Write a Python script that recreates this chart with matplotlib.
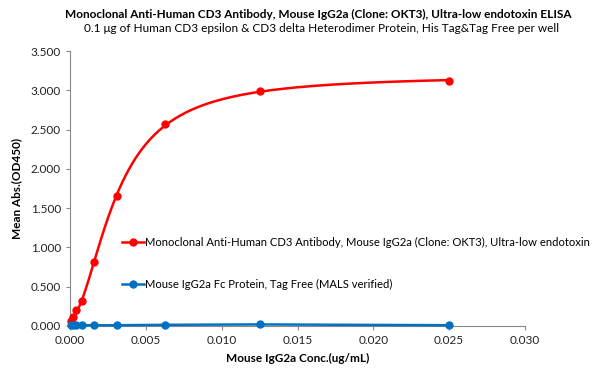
import numpy as np
import matplotlib.pyplot as plt

plt.rcParams['font.family'] = ['Lato', 'DejaVu Sans']

# data
conc = [0.025, 0.0125, 0.00625, 0.003125, 0.0015625, 0.00078125, 0.000390625, 0.0001953, 0.0000977]
od_okt3 = [3.12, 2.99, 2.57, 1.65, 0.82, 0.32, 0.20, 0.11, 0.07]
od_fc = [0.01, 0.02, 0.015, 0.01, 0.01, 0.01, 0.01, 0.01, 0.01]

label_okt3 = 'Monoclonal Anti-Human CD3 Antibody, Mouse IgG2a (Clone: OKT3), Ultra-low endotoxin'
label_fc = 'Mouse IgG2a Fc Protein, Tag Free (MALS verified)'
title = 'Monoclonal Anti-Human CD3 Antibody, Mouse IgG2a (Clone: OKT3), Ultra-low endotoxin ELISA'
subtitle = '0.1 \u03bcg of Human CD3 epsilon & CD3 delta Heterodimer Protein, His Tag&Tag Free per well'


def fit_4pl(x, y):
    # crude 4PL fit: grid over ec50/hill, linear least squares for bottom/top
    x = np.asarray(x)
    y = np.asarray(y)
    best = None
    for ec in np.geomspace(1e-4, 0.05, 300):
        for h in np.linspace(0.5, 3.0, 120):
            f = 1.0 / (1.0 + (ec / x) ** h)
            A = np.column_stack([1 - f, f])
            coef, *_ = np.linalg.lstsq(A, y, rcond=None)
            err = np.sum((A @ coef - y) ** 2)
            if best is None or err < best[0]:
                best = (err, ec, h, coef)
    _, ec, h, (bot, top) = best
    return lambda t: bot + (top - bot) / (1.0 + (ec / t) ** h)


def main():
    fig = plt.figure(figsize=(6.11, 3.75), dpi=100)
    ax = fig.add_axes([70 / 611, 1 - 326 / 375, 455 / 611, 275 / 375])

    f1 = fit_4pl(conc, od_okt3)
    xs = np.geomspace(min(conc), max(conc), 400)
    ax.plot(xs, f1(xs), color='#FF0000', lw=1.8, zorder=3)
    ax.plot(conc, od_okt3, 'o', color='#FF0000', ms=5, zorder=4)

    ax.plot(conc, od_fc, '-', color='#0070C0', lw=1.8, zorder=3)
    ax.plot(conc, od_fc, 'o', color='#0070C0', ms=5, zorder=4)

    # legend handles (line + marker)
    h1, = ax.plot([], [], '-o', color='#FF0000', lw=1.8, ms=5)
    h2, = ax.plot([], [], '-o', color='#0070C0', lw=1.8, ms=5)
    fig.legend([h1, h2], [label_okt3, label_fc], loc='upper left',
               bbox_to_anchor=(112 / 611, 1 - 227 / 375), frameon=False,
               handlelength=1.9, handletextpad=0.1, labelspacing=2.7,
               fontsize=8.1)

    ax.set_xlim(0, 0.030)
    ax.set_ylim(0, 3.5)
    ax.set_xticks(np.arange(0, 0.0301, 0.005))
    ax.set_yticks(np.arange(0, 3.51, 0.5))
    ax.xaxis.set_major_formatter(plt.FormatStrFormatter('%.3f'))
    ax.yaxis.set_major_formatter(plt.FormatStrFormatter('%.3f'))
    ax.tick_params(labelsize=8.5, colors='#222222', length=3, width=0.8)
    ax.tick_params(axis='both', color='#888888')
    for s in ['top', 'right']:
        ax.spines[s].set_visible(False)
    for s in ['left', 'bottom']:
        ax.spines[s].set_color('#888888')
        ax.spines[s].set_linewidth(0.8)
    for ln in ax.lines:
        ln.set_clip_on(False)

    ax.set_xlabel('Mouse IgG2a Conc.(ug/mL)', fontsize=8.5, fontweight='bold', labelpad=5)
    ax.set_ylabel('Mean Abs.(OD450)', fontsize=8.5, fontweight='bold', labelpad=6)

    fig.text(318 / 611, 1 - 14 / 375, title, ha='center', va='center', fontsize=8.5, fontweight='bold')
    fig.text(322 / 611, 1 - 29 / 375, subtitle, ha='center', va='center', fontsize=8.5)

    fig.savefig('out.png', dpi=100)


if __name__ == '__main__':
    main()
